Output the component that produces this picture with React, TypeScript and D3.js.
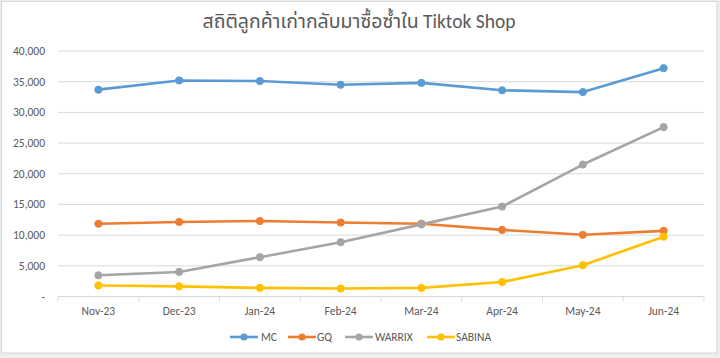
import React from "react";
import * as d3 from "d3";

const categories = ["Nov-23", "Dec-23", "Jan-24", "Feb-24", "Mar-24", "Apr-24", "May-24", "Jun-24"];
const seriesNames = ["MC", "GQ", "WARRIX", "SABINA"];
const seriesColors = ["#5B9BD5", "#ED7D31", "#A5A5A5", "#FFC000"];
const mcValues = [33700, 35200, 35100, 34500, 34800, 33600, 33300, 37200];
const gqValues = [11850, 12150, 12300, 12050, 11850, 10850, 10050, 10700];
const warrixValues = [3450, 4000, 6400, 8850, 11750, 14650, 21500, 27600];
const sabinaValues = [1800, 1650, 1400, 1300, 1400, 2350, 5100, 9750];
const yTicks = [0, 5000, 10000, 15000, 20000, 25000, 30000, 35000, 40000];
const title = "สถิติลูกค้าเก่ากลับมาซื้อซ้ำใน Tiktok Shop";

const W = 720;
const H = 358;
const FONT = "Calibri, Carlito, 'Open Sans', 'Noto Sans', 'Noto Sans Thai', 'DejaVu Sans', sans-serif";

export default function App() {
  const allSeries = [mcValues, gqValues, warrixValues, sabinaValues];
  const x = d3.scaleBand<string>().domain(categories).range([58, 704]);
  const y = d3.scaleLinear().domain([0, 40000]).range([296.5, 51]);
  const line = d3
    .line<number>()
    .x((_, i) => (x(categories[i]) as number) + x.bandwidth() / 2)
    .y((d) => y(d));
  const fmt = (v: number) => (v === 0 ? "-" : d3.format(",")(v));

  const legendItems = [
    { lineX: 230, textX: 261 },
    { lineX: 288, textX: 317 },
    { lineX: 345, textX: 375 },
    { lineX: 427, textX: 456 },
  ];
  const boundaries = d3.range(categories.length + 1).map((i) => 58 + i * x.step());

  return (
    <svg width={W} height={H} style={{ position: "absolute", left: 0, top: 0 }} fontFamily={FONT}>
      <rect x={0} y={0} width={W} height={H} fill="#eeeeee" />
      <rect x={1.5} y={1.5} width={715.5} height={351.5} fill="#ffffff" stroke="#d6d6d6" />
      <text x={359} y={28} textAnchor="middle" fontSize={19.5} fill="#595959">
        {title}
      </text>
      {yTicks.map((t) => (
        <g key={t}>
          {t !== 0 && <line x1={58} x2={704} y1={y(t)} y2={y(t)} stroke="#d9d9d9" strokeWidth={1} />}
          <text x={45} y={y(t) + 4} textAnchor="end" fontSize={11.5} fill="#595959">
            {fmt(t)}
          </text>
        </g>
      ))}
      <line x1={58} x2={704} y1={y(0)} y2={y(0)} stroke="#d9d9d9" strokeWidth={1} />
      {boundaries.map((bx, i) => (
        <line key={i} x1={bx} x2={bx} y1={y(0)} y2={y(0) + 5} stroke="#d9d9d9" strokeWidth={1} />
      ))}
      {categories.map((c) => (
        <text
          key={c}
          x={(x(c) as number) + x.bandwidth() / 2}
          y={315}
          textAnchor="middle"
          fontSize={11.5}
          fill="#595959"
        >
          {c}
        </text>
      ))}
      {allSeries.map((vals, si) => (
        <g key={seriesNames[si]}>
          <path d={line(vals) || ""} fill="none" stroke={seriesColors[si]} strokeWidth={2.6} strokeLinejoin="round" strokeLinecap="round" />
          {vals.map((v, i) => (
            <circle
              key={i}
              cx={(x(categories[i]) as number) + x.bandwidth() / 2}
              cy={y(v)}
              r={3.6}
              fill={seriesColors[si]}
              stroke={seriesColors[si]}
            />
          ))}
        </g>
      ))}
      {legendItems.map((it, si) => (
        <g key={seriesNames[si]}>
          <line x1={it.lineX} x2={it.lineX + 28} y1={337} y2={337} stroke={seriesColors[si]} strokeWidth={2.6} />
          <circle cx={it.lineX + 14} cy={337} r={3.6} fill={seriesColors[si]} />
          <text x={it.textX} y={341} fontSize={11.5} fill="#595959">
            {seriesNames[si]}
          </text>
        </g>
      ))}
    </svg>
  );
}
